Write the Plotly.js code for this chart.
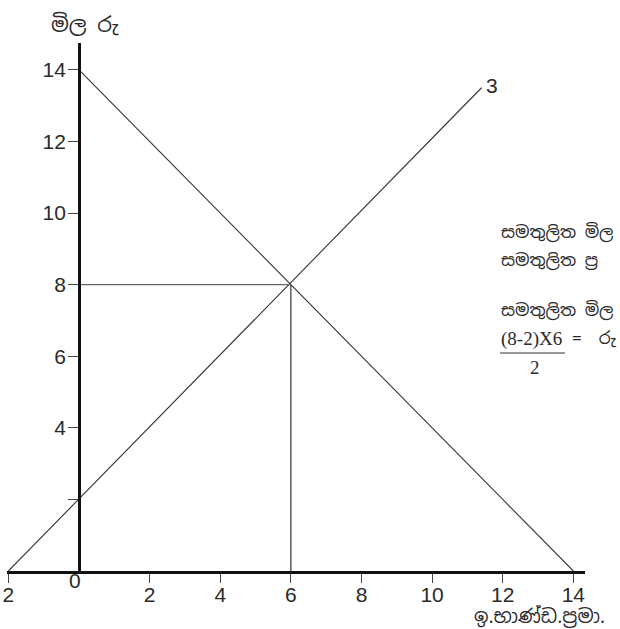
<!DOCTYPE html>
<html>
<head>
<meta charset="utf-8">
<script src="https://cdn.plot.ly/plotly-3.0.1.min.js"></script>
<style>
html,body{margin:0;padding:0;background:#fff;}
#chart{width:620px;height:629px;}
</style>
</head>
<body>
<div id="chart"></div>
<script>
// ---- data ----
var xTickVals = [-2, 2, 4, 6, 8, 10, 12, 14];
var xTickText = ['2', '2', '4', '6', '8', '10', '12', '14'];
var yTickVals = [2, 4, 6, 8, 10, 12, 14];
var yTickText = ['', '4', '6', '8', '10', '12', '14'];
var demandQ = [0, 14];
var demandP = [14, 0];
var supplyQ = [-2, 11.4];
var supplyP = [0, 13.5];
var eqQ = 6;
var eqP = 8;
var supplyLabel = '3';
var yTitle = 'මිල රු';
var xTitle = 'ඉ.භාණ්ඩ.ප්‍රමා.';
var originLabel = '0';
var noteLines = ['සමතුලිත මිල', 'සමතුලිත ප්‍ර', 'සමතුලිත මිල'];
var fracNum = '(8-2)X6';
var fracDen = '2';
var fracResult = '=  රු';

// ---- layout geometry ----
var W = 620, H = 629;
var mL = 7, mR = 35, mT = 43, mB = 58;
var xr = [-2.04, 14.33];
var yr = [0, 14.75];
var pw = W - mL - mR, ph = H - mT - mB;
function px(p) { return (p - mL) / pw; }      // pixel x -> paper x
function py(p) { return (H - mB - p) / ph; }  // pixel y -> paper y

var sinh = 'Noto Sans Sinhala, Noto Serif Sinhala, Lohit Sinhala, Iskoola Pota, sans-serif';
var num = 'Liberation Sans, Arial, sans-serif';
var txtCol = '#2a2a2a';

var traces = [
  {x: demandQ, y: demandP, mode: 'lines', line: {color: '#333', width: 1.1}, hoverinfo: 'skip', cliponaxis: false},
  {x: supplyQ, y: supplyP, mode: 'lines', line: {color: '#333', width: 1.1}, hoverinfo: 'skip', cliponaxis: false},
  {x: [0, eqQ], y: [eqP, eqP], mode: 'lines', line: {color: '#666', width: 1.4}, hoverinfo: 'skip'},
  {x: [eqQ, eqQ], y: [0, eqP], mode: 'lines', line: {color: '#333', width: 1.2}, hoverinfo: 'skip'}
];

var annotations = [
  {xref: 'x', yref: 'y', x: supplyQ[1], y: supplyP[1], text: supplyLabel, showarrow: false,
   xanchor: 'left', yanchor: 'middle', xshift: 2, yshift: 2, font: {family: num, size: 21, color: txtCol}},
  {xref: 'x', yref: 'paper', x: 0, y: py(580), text: originLabel, showarrow: false,
   xanchor: 'center', yanchor: 'middle', xshift: -4, font: {family: num, size: 21, color: txtCol}},
  {xref: 'paper', yref: 'paper', x: px(85), y: py(24), text: yTitle, showarrow: false,
   xanchor: 'center', yanchor: 'middle', font: {family: sinh, size: 21, color: txtCol}},
  {xref: 'paper', yref: 'paper', x: px(472), y: py(616), text: xTitle, showarrow: false,
   xanchor: 'left', yanchor: 'middle', font: {family: sinh, size: 19, color: txtCol}},
  {xref: 'paper', yref: 'paper', x: px(499), y: py(232), text: noteLines[0], showarrow: false,
   xanchor: 'left', yanchor: 'middle', font: {family: sinh, size: 17, color: txtCol}},
  {xref: 'paper', yref: 'paper', x: px(499), y: py(260), text: noteLines[1], showarrow: false,
   xanchor: 'left', yanchor: 'middle', font: {family: sinh, size: 17, color: txtCol}},
  {xref: 'paper', yref: 'paper', x: px(499), y: py(310), text: noteLines[2], showarrow: false,
   xanchor: 'left', yanchor: 'middle', font: {family: sinh, size: 17, color: txtCol}},
  {xref: 'paper', yref: 'paper', x: px(499), y: py(339), text: fracNum, showarrow: false,
   xanchor: 'left', yanchor: 'middle', font: {family: 'Liberation Serif, serif', size: 19, color: txtCol}},
  {xref: 'paper', yref: 'paper', x: px(535), y: py(367), text: fracDen, showarrow: false,
   xanchor: 'center', yanchor: 'middle', font: {family: 'Liberation Serif, serif', size: 19, color: txtCol}},
  {xref: 'paper', yref: 'paper', x: px(570), y: py(338), text: fracResult, showarrow: false,
   xanchor: 'left', yanchor: 'middle', font: {family: sinh, size: 17, color: txtCol}}
];

var shapes = [
  {type: 'line', xref: 'paper', yref: 'paper', x0: px(500), x1: px(565), y0: py(353), y1: py(353),
   line: {color: '#333', width: 1}}
];

var layout = {
  width: W, height: H,
  margin: {l: mL, r: mR, t: mT, b: mB, pad: 0},
  paper_bgcolor: '#fff', plot_bgcolor: '#fff',
  showlegend: false,
  xaxis: {
    range: xr, showgrid: false, zeroline: false,
    showline: true, linecolor: '#111', linewidth: 2.5,
    ticks: 'outside', ticklen: 9, tickwidth: 1, tickcolor: '#444',
    tickmode: 'array', tickvals: xTickVals, ticktext: xTickText,
    ticklabelstandoff: -6,
    tickfont: {family: num, size: 21, color: txtCol}, fixedrange: true
  },
  yaxis: {
    range: yr, showgrid: false, zeroline: false,
    anchor: 'free', position: (0 - xr[0]) / (xr[1] - xr[0]),
    showline: true, linecolor: '#111', linewidth: 2.5,
    ticks: 'outside', ticklen: 10, tickwidth: 1, tickcolor: '#444',
    tickmode: 'array', tickvals: yTickVals, ticktext: yTickText,
    ticklabelstandoff: -2,
    tickfont: {family: num, size: 21, color: txtCol}, fixedrange: true
  },
  annotations: annotations,
  shapes: shapes
};

Plotly.newPlot('chart', traces, layout, {staticPlot: true, displayModeBar: false});
</script>
</body>
</html>
